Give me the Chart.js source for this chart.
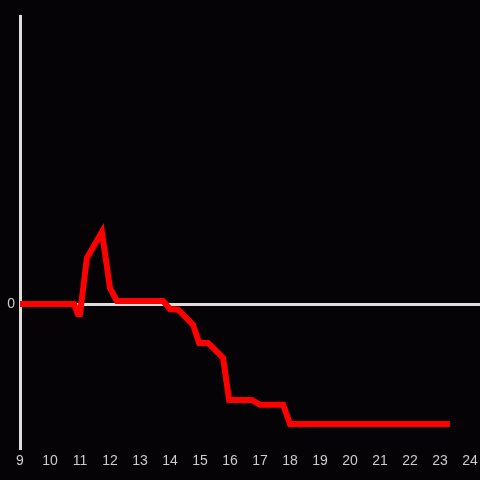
<!DOCTYPE html>
<html>
<head>
<meta charset="utf-8">
<script src="https://cdn.jsdelivr.net/npm/chart.js@4"></script>
<style>
  html, body { margin: 0; padding: 0; background: #050306; }
  #wrap { width: 480px; height: 480px; }
</style>
</head>
<body>
<div id="wrap"><canvas id="myChart" width="480" height="480"></canvas></div>
<script>
// hours along the bottom, values of the red line
const hours = [9, 10.8, 10.93, 11.0, 11.23, 11.73, 12.0, 12.23, 13.77, 14.0, 14.27, 14.77, 14.97, 15.27, 15.77, 15.97, 16.73, 17.0, 17.77, 18.0, 23.33];
const values = [0, 0, -0.07, -0.07, 0.32, 0.5, 0.11, 0.02, 0.02, -0.035, -0.04, -0.145, -0.27, -0.27, -0.375, -0.667, -0.667, -0.70, -0.70, -0.833, -0.833];
const xTicks = [9, 10, 11, 12, 13, 14, 15, 16, 17, 18, 19, 20, 21, 22, 23, 24];
const yTicks = [0];

const canvas = document.getElementById("myChart");
const ctx = canvas.getContext("2d");

var points = hours.map((h, i) => {
  return { x: h, y: values[i] };
});

new Chart(ctx, {
  type: "line",
  data: {
    datasets: [
      {
        data: points,
        borderColor: "#ff0000",
        borderWidth: 6,
        pointRadius: 0,
        tension: 0,
        fill: false
      }
    ]
  },
  options: {
    responsive: false,
    animation: false,
    layout: {
      padding: { top: 16, right: 0, left: 0, bottom: 0 }
    },
    plugins: {
      legend: { display: false },
      tooltip: { enabled: false }
    },
    scales: {
      x: {
        type: "linear",
        min: 9,
        max: 24.333,
        afterBuildTicks: (axis) => {
          axis.ticks = xTicks.map((v) => ({ value: v }));
        },
        afterFit: (axis) => {
          axis.height = 32;
          axis.paddingRight = 0;
          axis.paddingLeft = 0;
        },
        grid: { display: false, drawTicks: false },
        border: { display: false },
        ticks: {
          color: "#cccccc",
          padding: 5,
          maxRotation: 0,
          autoSkip: false,
          font: { family: "Liberation Sans", size: 14 }
        }
      },
      y: {
        min: -1,
        max: 2,
        afterBuildTicks: (axis) => {
          axis.ticks = yTicks.map((v) => ({ value: v }));
        },
        afterFit: (axis) => { axis.width = 20; },
        grid: { color: "#dddddd", lineWidth: 3, drawTicks: false },
        border: { display: true, color: "#dddddd", width: 3 },
        ticks: {
          color: "#cccccc",
          padding: 5,
          font: { family: "Liberation Sans", size: 14 }
        }
      }
    }
  }
});
</script>
</body>
</html>
